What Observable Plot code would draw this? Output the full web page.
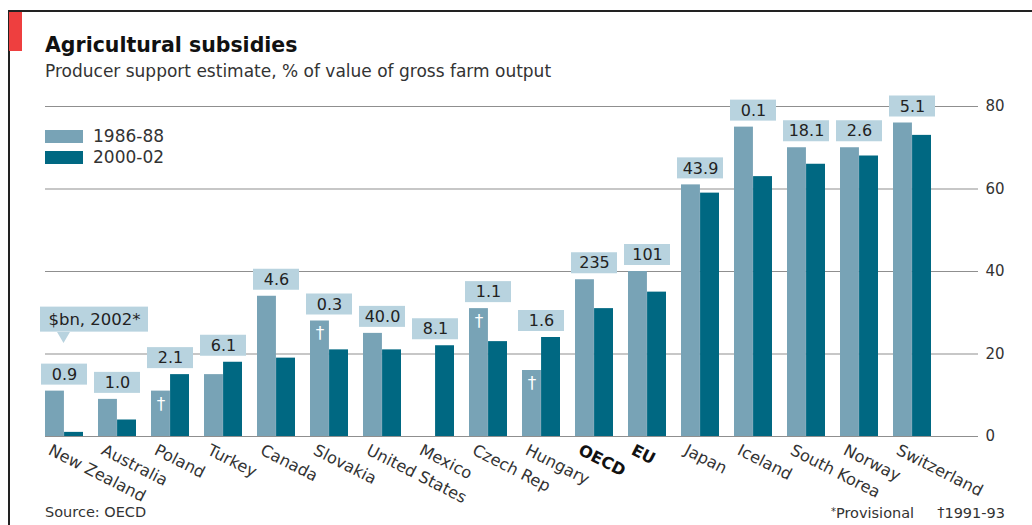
<!DOCTYPE html>
<html>
<head>
<meta charset="utf-8">
<script src="https://cdn.jsdelivr.net/npm/d3@7"></script>
<script src="https://cdn.jsdelivr.net/npm/@observablehq/plot@0.6"></script>
<style>
  html, body { margin: 0; padding: 0; background: #fff; }
  #page { position: relative; width: 1032px; height: 525px; overflow: hidden; font-family: "DejaVu Sans", sans-serif; color: #222; }
  .abs { position: absolute; white-space: nowrap; }
  #chart { position: absolute; left: 0; top: 90px; }
</style>
</head>
<body>
<div id="page">
  <div class="abs" style="left:8px;top:10px;width:1024px;height:2px;background:#222"></div>
  <div class="abs" style="left:8px;top:10px;width:2px;height:515px;background:#222"></div>
  <div class="abs" style="left:9px;top:12px;width:13px;height:39px;background:#ee3f3f"></div>
  <div class="abs" id="title" style="left:45px;top:34.7px;font-size:20.5px;line-height:20.5px;font-weight:bold;color:#111">Agricultural subsidies</div>
  <div class="abs" id="subtitle" style="left:45px;top:62.6px;font-size:17px;line-height:17px;color:#333">Producer support estimate, % of value of gross farm output</div>
  <div id="chart"></div>
  <div id="legend"></div>
  <div class="abs" style="left:45px;top:505.4px;font-size:14.5px;line-height:14.5px;color:#333">Source: OECD</div>
  <div class="abs" style="right:27px;top:505.4px;font-size:14.5px;line-height:14.5px;color:#333"><span style="font-size:10px;vertical-align:3px">*</span>Provisional&nbsp;&nbsp;&nbsp;&nbsp;&nbsp;<span style="vertical-align:1px">†</span>1991-93</div>
</div>
<script>
const countries = ["New Zealand","Australia","Poland","Turkey","Canada","Slovakia","United States","Mexico","Czech Rep","Hungary","OECD","EU","Japan","Iceland","South Korea","Norway","Switzerland"];
const pse1986 = [11, 9, 11, 15, 34, 28, 25, null, 31, 16, 38, 40, 61, 75, 70, 70, 76];
const pse2000 = [1, 4, 15, 18, 19, 21, 21, 22, 23, 24, 31, 35, 59, 63, 66, 68, 73];
const bn2002 = ["0.9","1.0","2.1","6.1","4.6","0.3","40.0","8.1","1.1","1.6","235","101","43.9","0.1","18.1","2.6","5.1"];
const daggered = ["Poland","Slovakia","Czech Rep","Hungary"];
const boldCats = ["OECD","EU"];
const series = ["1986-88","2000-02"];
const yTicks = [0, 20, 40, 60, 80];
const calloutText = "$bn, 2002*";

const lightColor = "#78a3b6";
const darkColor = "#006882";
const boxColor = "#b8d3df";
const gridColor = "#8f8f8f";

const rows = countries.map((c, i) => ({
  country: c,
  early: pse1986[i],
  late: pse2000[i],
  bn: bn2002[i],
  top: d3.max([pse1986[i], pse2000[i]])
}));

const W = 1032, H = 435;
const x0 = 45, x1 = 943, padIn = 0.29;
const step = (x1 - x0) / (countries.length - padIn);
const bw = step * (1 - padIn);

const chart = Plot.plot({
  width: W,
  height: H,
  marginLeft: 45,
  marginRight: 54,
  marginTop: 16,
  marginBottom: 89,
  style: {fontFamily: "DejaVu Sans, sans-serif", color: "#333", background: "transparent"},
  x: {domain: countries, range: [x0, x1], paddingInner: padIn, paddingOuter: 0, align: 0, axis: null},
  y: {domain: [0, 80], axis: null},
  marks: [
    Plot.ruleY(yTicks, {stroke: gridColor, strokeWidth: 1.2}),
    Plot.axisY({anchor: "right", ticks: yTicks, tickSize: 0, tickPadding: 7, fontSize: 15, label: null}),
    Plot.barY(rows, {x: "country", y: "early", fill: lightColor, insetRight: bw / 2}),
    Plot.barY(rows, {x: "country", y: "late", fill: darkColor, insetLeft: bw / 2}),
    Plot.text(rows.filter(d => daggered.includes(d.country)), {x: "country", y: "early", text: () => "†", fill: "white", fontSize: 17, dx: -bw / 4, dy: 13}),
    Plot.barY(rows, {x: "country", y1: "top", y2: "top", fill: boxColor, insetTop: -27, insetBottom: 6, insetLeft: -4, insetRight: -4}),
    Plot.text(rows, {x: "country", y: "top", text: "bn", fill: "#222", fontSize: 16, dy: -16.5}),
    // callout "$bn, 2002*" attached to the first category
    Plot.barY(rows.slice(0, 1), {x: "country", y1: "early", y2: "early", fill: boxColor, insetTop: -84, insetBottom: 59, insetLeft: -5, insetRight: -65}),
    Plot.dot(rows.slice(0, 1), {x: "country", y: "early", symbol: "triangle", r: 4.8, rotate: 180, fill: boxColor, dx: -1, dy: -55.5}),
    Plot.text(rows.slice(0, 1), {x: "country", y: "early", text: () => calloutText, fill: "#222", fontSize: 16.5, dx: 30, dy: -71}),
    // category labels
    Plot.text(countries.filter(c => !boldCats.includes(c)), {x: d => d, y: () => 0, text: d => d, rotate: 27, textAnchor: "start", lineAnchor: "top", dx: -12, dy: 7, fontSize: 16.2, fill: "#333"}),
    Plot.text(countries.filter(c => boldCats.includes(c)), {x: d => d, y: () => 0, text: d => d, rotate: 27, textAnchor: "start", lineAnchor: "top", dx: -12, dy: 7, fontSize: 16.2, fontWeight: "bold", fill: "#111"})
  ]
});
document.getElementById("chart").appendChild(chart);

const legend = document.getElementById("legend");
const legendColors = [lightColor, darkColor];
series.forEach((s, i) => {
  const sw = document.createElement("div");
  sw.className = "abs";
  sw.style.cssText = `left:45px;top:${129.5 + i * 21}px;width:38px;height:13px;background:${legendColors[i]}`;
  legend.appendChild(sw);
  const t = document.createElement("div");
  t.className = "abs";
  t.style.cssText = `left:93px;top:${127.8 + i * 21}px;font-size:17px;line-height:17px;color:#333`;
  t.textContent = s;
  legend.appendChild(t);
});
</script>
</body>
</html>
